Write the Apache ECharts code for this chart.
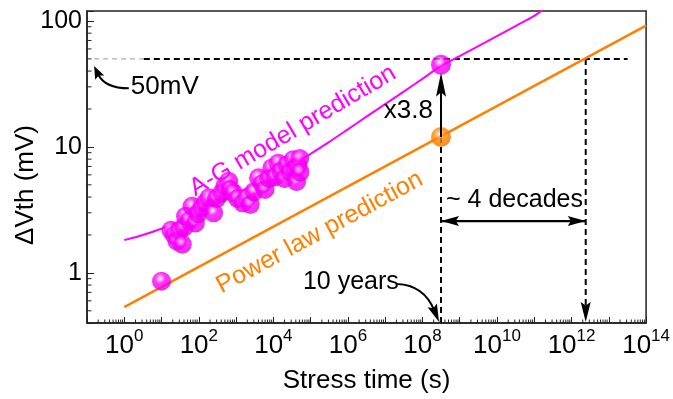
<!DOCTYPE html>
<html><head><meta charset="utf-8">
<script src="https://cdn.jsdelivr.net/npm/echarts@6/dist/echarts.min.js"></script>
<style>html,body{margin:0;padding:0;background:#fff}#c{width:673px;height:399px}</style>
</head><body><div id="c"></div>
<script>
const FONT = 'Liberation Sans, Arial, Helvetica, sans-serif';

// A-G model prediction curve
const agTime = [1, 3.16, 10, 31.6, 100, 316, 1e3, 3.16e3, 1e4, 3.16e4, 1e5, 3.16e5, 1e6, 3.16e6, 1e7, 3.16e7, 1e8, 3.16e8, 1e9, 3.16e9, 1e10, 3.16e10, 1e11, 2e11];
const agVth  = [1.82, 2.0, 2.24, 2.57, 3.02, 3.55, 4.27, 5.01, 6.03, 7.24, 8.81, 10.96, 13.8, 17.4, 21.9, 27.5, 34.7, 44, 52.5, 63.1, 75.9, 91.2, 109.6, 128];

// Power law prediction line
const powTime = [1, 1e14];
const powVth  = [0.535, 92];

// Measured data (magenta spheres)
const dataTime = [10, 18, 22, 26, 30, 36, 40, 44, 55, 66, 81, 95, 120, 150, 186, 251, 300, 417, 500, 630, 700, 850, 1100, 1500, 1950, 2400, 3000, 4000, 5000, 6000, 7500, 9100, 11000, 13500, 16000, 20000, 23000, 28000, 34000, 38000, 42000, 46000, 51000, 52000];
const dataVth  = [0.86, 2.18, 2.0, 1.79, 2.15, 1.69, 2.3, 2.82, 2.6, 3.38, 2.49, 2.95, 3.3, 3.6, 3.94, 3.0, 3.9, 4.32, 4.9, 5.34, 4.6, 4.32, 3.9, 3.6, 3.94, 3.49, 4.4, 5.68, 5.1, 4.6, 5.6, 6.8, 5.8, 7.43, 6.4, 5.6, 7.2, 6.3, 7.9, 6.7, 5.3, 7.1, 8.1, 6.3];

// 10-year markers
const tenYears = 3.15e8;
const powerAt10y = 12;
const agAt10y = 45;
const threshold = 50;          // 50 mV
const crossTime = 2.4e12;      // power law reaches 50 mV
const thresholdStart = 3.35;
const thresholdEnd = 3.2e13;
const grayStart = 0.155;
const decadeArrowV = 2.58;

// axis
const xMin = 0.1, xMax = 1e14, yMin = 0.4, yMax = 120;
const xLabelExps = [0, 2, 4, 6, 8, 10, 12, 14];
const yLabels = [1, 10, 100];

const xMinor = [];
for (let d = -1; d < 14; d++) for (let m = 2; m <= 9; m++) xMinor.push(m * Math.pow(10, d));
const yMinor = [];
for (let d = -1; d < 3; d++) for (let m = 2; m <= 9; m++) { const v = m * Math.pow(10, d); if (v > yMin && v < yMax) yMinor.push(v); }

function sphere(c0, c1, c2, c3) {
  return {type: 'radial', x: 0.42, y: 0.36, r: 0.68, colorStops: [
    {offset: 0, color: c0}, {offset: 0.13, color: c1}, {offset: 0.4, color: c2}, {offset: 1, color: c3}]};
}
const magSphere = sphere('#ffffff', '#ffa8ff', '#ff00ff', '#e000e0');
const orgSphere = sphere('#ffffff', '#ffc890', '#ff8a00', '#e87000');

const chart = echarts.init(document.getElementById('c'), null, {renderer: 'canvas'});

const dashBlack = {color: '#000', width: 2, type: [6, 4]};
function seg(pts, style, z) {
  return {type: 'line', data: pts, symbol: 'none', lineStyle: style, silent: true, z: z || 3, animation: false};
}

chart.setOption({
  animation: false,
  grid: {left: 87, right: 24, top: 11, bottom: 75, show: true, borderColor: '#222', borderWidth: 1.5, backgroundColor: 'transparent'},
  xAxis: {
    type: 'log', logBase: 10, min: xMin, max: xMax, interval: 1,
    name: 'Stress time (s)', nameLocation: 'middle', nameGap: 45,
    nameTextStyle: {fontSize: 26, fontFamily: FONT, color: '#000'},
    axisLine: {lineStyle: {color: '#222', width: 1.5}},
    axisTick: {inside: true, length: 6, interval: 0, lineStyle: {color: '#222', width: 1}},
    splitLine: {show: false},
    axisLabel: {
      interval: 0, hideOverlap: false, margin: 5, showMinLabel: true, showMaxLabel: true,
      formatter: function (v) {
        const e = Math.round(Math.log10(v));
        if (Math.abs(Math.log10(v) - e) > 1e-6) return '';
        return xLabelExps.indexOf(e) >= 0 ? '{b|10}{s|' + e + '}' : '';
      },
      rich: {
        b: {fontSize: 26, fontFamily: FONT, color: '#000', padding: [5, 0, 0, 0]},
        s: {fontSize: 17, fontFamily: FONT, color: '#000', verticalAlign: 'top'}
      }
    }
  },
  yAxis: {
    type: 'log', logBase: 10, min: yMin, max: yMax,
    axisLine: {lineStyle: {color: '#222', width: 1.5}},
    axisTick: {inside: true, length: 7, lineStyle: {color: '#222', width: 1}},
    splitLine: {show: false},
    axisLabel: {
      margin: 5, fontSize: 25, fontFamily: FONT, color: '#000', showMinLabel: true, showMaxLabel: true,
      formatter: function (v) {
        for (const l of yLabels) if (Math.abs(Math.log10(v) - Math.log10(l)) < 1e-6) return String(l);
        return '';
      }
    }
  },
  series: [
    {type: 'custom', silent: true, clip: false, z: 5, data: xMinor.map(t => [t, yMin]),
     renderItem: function (p, api) { const q = api.coord([api.value(0), api.value(1)]);
       return {type: 'line', shape: {x1: q[0], y1: q[1], x2: q[0], y2: q[1] - 3.5}, style: {stroke: '#222', lineWidth: 1}}; }},
    {type: 'custom', silent: true, clip: false, z: 5, data: yMinor.map(v => [xMin, v]),
     renderItem: function (p, api) { const q = api.coord([api.value(0), api.value(1)]);
       return {type: 'line', shape: {x1: q[0], y1: q[1], x2: q[0] + 4.5, y2: q[1]}, style: {stroke: '#222', lineWidth: 1}}; }},
    seg([[grayStart, threshold], [thresholdStart, threshold]], {color: '#999', width: 1, type: [5, 4]}),
    seg([[thresholdStart, threshold], [thresholdEnd, threshold]], dashBlack),
    seg([[tenYears, powerAt10y], [tenYears, yMin]], dashBlack),
    seg([[crossTime, threshold], [crossTime, 0.5]], dashBlack),
    {type: 'line', name: 'Power law', data: powTime.map((t, i) => [t, powVth[i]]), symbol: 'none',
     lineStyle: {color: '#ff8000', width: 2.5}, z: 4, silent: true},
    {type: 'line', name: 'A-G', data: agTime.map((t, i) => [t, agVth[i]]), symbol: 'none', smooth: 0.3,
     lineStyle: {color: '#ff00ff', width: 2}, z: 4, silent: true},
    {type: 'scatter', data: dataTime.map((t, i) => [t, dataVth[i]]), symbolSize: 19,
     itemStyle: {color: magSphere}, z: 10, silent: true},
    {type: 'scatter', data: [[tenYears, agAt10y]], symbolSize: 20, itemStyle: {color: magSphere}, z: 12, silent: true},
    {type: 'scatter', data: [[tenYears, powerAt10y]], symbolSize: 20, itemStyle: {color: orgSphere}, z: 12, silent: true}
  ]
});

function px(t, v) { return chart.convertToPixel({gridIndex: 0}, [t, v]); }
function head(tip, from, len, hw) {
  const dx = tip[0] - from[0], dy = tip[1] - from[1], L = Math.hypot(dx, dy);
  const ux = dx / L, uy = dy / L, bx = tip[0] - ux * len, by = tip[1] - uy * len, nx = -uy, ny = ux;
  return {type: 'polygon', z: 100, silent: true, shape: {points: [[tip[0], tip[1]], [bx + nx * hw, by + ny * hw],
    [tip[0] - ux * len * 0.82, tip[1] - uy * len * 0.82], [bx - nx * hw, by - ny * hw]]}, style: {fill: '#000'}};
}
function line(a, b, w) { return {type: 'line', z: 99, silent: true, shape: {x1: a[0], y1: a[1], x2: b[0], y2: b[1]}, style: {stroke: '#000', lineWidth: w || 2}}; }
function txt(p, s, opt) {
  return Object.assign({type: 'text', z: 101, silent: true, x: p[0], y: p[1], style: Object.assign({text: s, fontSize: 25, fontFamily: FONT, fill: '#000', align: 'center', verticalAlign: 'middle'}, opt || {})});
}

const g = [];
// solid up arrow x3.8
const pOr = px(tenYears, powerAt10y), pAg = px(tenYears, agAt10y);
const upTip = [pAg[0], pAg[1] + 8];
g.push(line(pOr, [upTip[0], upTip[1] + 10], 2));
g.push(head(upTip, pOr, 24, 5));
// ~4 decades double arrow
const dl = px(tenYears, decadeArrowV), dr = px(crossTime, decadeArrowV);
g.push(line(dl, dr, 2.2));
g.push(head(dl, dr, 18, 5));
g.push(head(dr, dl, 18, 5));
// down arrow at crossing time
const dTip = px(crossTime, yMin); dTip[1] -= 1;
g.push(head(dTip, [dTip[0], dTip[1] - 50], 20, 5));
// 50mV curved arrow
const t50 = px(1.5, 30);
const s50 = [t50[0] - 2, t50[1] + 1.5];
const tip50 = px(grayStart, 44);
const c50 = [s50[0] - 24, s50[1]];
{
  const dx = tip50[0] - c50[0], dy = tip50[1] - c50[1], L = Math.hypot(dx, dy);
  const e = [tip50[0] - dx / L * 9, tip50[1] - dy / L * 9];
  g.push({type: 'bezierCurve', z: 99, silent: true, shape: {x1: s50[0], y1: s50[1], x2: e[0], y2: e[1], cpx1: c50[0], cpy1: c50[1]}, style: {stroke: '#000', lineWidth: 2, fill: null}});
  g.push(head(tip50, c50, 13, 5));
}
g.push(txt(t50, '50mV', {align: 'left', fontSize: 26}));
// 10 years curved arrow
const t10 = px(6.2e4, 0.845);
g.push(txt(t10, '10 years', {align: 'left'}));
const s10 = px(2.1e7, 0.816);
const tip10 = px(tenYears, yMin); tip10[0] -= 2; tip10[1] -= 1;
const c10 = [tip10[0] - 15, s10[1] + 1];
{
  const dx = tip10[0] - c10[0], dy = tip10[1] - c10[1], L = Math.hypot(dx, dy);
  const e = [tip10[0] - dx / L * 12, tip10[1] - dy / L * 12];
  g.push({type: 'bezierCurve', z: 99, silent: true, shape: {x1: s10[0], y1: s10[1], x2: e[0], y2: e[1], cpx1: c10[0], cpy1: c10[1]}, style: {stroke: '#000', lineWidth: 2, fill: null}});
  g.push(head(tip10, c10, 18, 5));
}
// texts
g.push(txt(px(4.2e7, 19.5), 'x3.8', {fontSize: 26}));
g.push(txt(px(2.95e10, 3.75), '~ 4 decades'));
g.push(txt(px(3.35e4, 13.4), 'A-G model prediction', {fill: '#ff00ff'}));
g[g.length - 1].rotation = 30.5 * Math.PI / 180;
g.push(txt(px(1.76e5, 2.09), 'Power law prediction', {fill: '#ff8000'}));
g[g.length - 1].rotation = 28.4 * Math.PI / 180;
// y axis name
const yn = px(xMin, 1);
g.push(Object.assign(txt([yn[0] - 61, 185], '\u0394Vth (mV)', {fontSize: 26}), {rotation: Math.PI / 2}));

chart.setOption({graphic: g});
</script>
</body></html>
